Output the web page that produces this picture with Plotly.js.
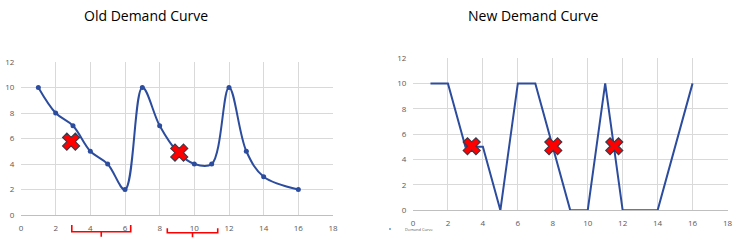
<!DOCTYPE html>
<html>
<head>
<meta charset="utf-8">
<script src="https://cdn.plot.ly/plotly-3.0.1.min.js"></script>
<style>html,body{margin:0;padding:0;background:#fff;}#chart{width:743px;height:240px;}</style>
</head>
<body>
<div id="chart"></div>
<script>
// Old demand curve (smoothed)
const oldX = [1, 2, 3, 4, 5, 6, 7, 8, 9, 10, 11, 12, 13, 14, 16];
const oldY = [10, 8, 7, 5, 4, 2, 10, 7, 5, 4, 4, 10, 5, 3, 2];
const oldMarkX = [2.89, 9.13];
const oldMarkY = [5.75, 4.89];

// New demand curve (straight segments)
const newX = [1, 2, 3, 4, 5, 6, 7, 8, 9, 10, 11, 12, 13, 14, 16];
const newY = [10, 10, 5, 5, 0, 10, 10, 5, 0, 0, 10, 0, 0, 0, 10];
const newMarkX = [3.36, 8.03, 11.52];
const newMarkY = [5.05, 5.05, 5.05];

// Red brackets under the old chart's x-axis: [start, end]
const bracketSpans = [[2.93, 6.33], [8.44, 11.35]];

const tickVals = [0, 2, 4, 6, 8, 10, 12, 14, 16, 18];
const yTickVals = [0, 2, 4, 6, 8, 10, 12];

const titles = ['Old Demand Curve', 'New Demand Curve'];
const legendLabel = 'Demand Curve';

const W = 743, H = 240;
const blue = '#2c4c9e';
const tickFont = {family: 'Open Sans, sans-serif', size: 8, color: '#595959'};

function xax(domain) {
  return {domain: domain, range: [0, 18], tickvals: tickVals, showgrid: true, gridcolor: '#d9d9d9', gridwidth: 1,
    zeroline: false, showline: true, linecolor: '#bfbfbf', linewidth: 1, ticks: 'outside', ticklen: 5,
    tickcolor: 'rgba(0,0,0,0)', tickfont: tickFont, fixedrange: true};
}
function yax(domain, anchor) {
  return {domain: domain, range: [0, 12], tickvals: yTickVals, showgrid: true, gridcolor: '#d9d9d9', gridwidth: 1,
    zeroline: false, showline: false, ticks: 'outside', ticklen: 4, tickcolor: 'rgba(0,0,0,0)',
    tickfont: tickFont, anchor: anchor, fixedrange: true};
}

const xMark = {symbol: 'x', size: 15, color: '#ff0000', line: {color: '#3a3a4a', width: 1.2}};

const traces = [
  {x: oldX, y: oldY, xaxis: 'x', yaxis: 'y', mode: 'lines+markers', line: {color: blue, width: 2, shape: 'spline', smoothing: 1},
   marker: {color: blue, size: 5}, showlegend: false, hoverinfo: 'skip'},
  {x: oldMarkX, y: oldMarkY, xaxis: 'x', yaxis: 'y', mode: 'markers', marker: xMark, showlegend: false, hoverinfo: 'skip'},
  {x: newX, y: newY, xaxis: 'x2', yaxis: 'y2', mode: 'lines', line: {color: blue, width: 2}, showlegend: false, hoverinfo: 'skip'},
  {x: newMarkX, y: newMarkY, xaxis: 'x2', yaxis: 'y2', mode: 'markers', marker: xMark, showlegend: false, hoverinfo: 'skip'}
];

const py = p => (H - p) / H; // pixel-from-top to paper
const shapes = [];
const bracketY = [[225, 231.7, 236.7], [228.3, 232.7, 237.3]];
bracketSpans.forEach((s, i) => {
  const c = (s[0] + s[1]) / 2;
  const [a, b, d] = bracketY[i].map(py);
  shapes.push({type: 'path', xref: 'x', yref: 'paper',
    path: `M ${s[0]},${a} L ${s[0]},${b} L ${s[1]},${b} L ${s[1]},${a} M ${c},${b} L ${c},${d}`,
    line: {color: '#ff0000', width: 1.6}});
});
shapes.push({type: 'circle', xref: 'paper', yref: 'paper', x0: 389 / W, x1: 391 / W, y0: py(230), y1: py(228),
  fillcolor: '#5b9bd5', line: {width: 0}});

const titleFont = {family: 'Liberation Sans Narrow, Open Sans, sans-serif', size: 14, color: '#000'};
const annotations = [
  {text: titles[0], xref: 'paper', yref: 'paper', x: 146 / W, y: py(15), xanchor: 'center', yanchor: 'middle', showarrow: false, font: titleFont},
  {text: titles[1], xref: 'paper', yref: 'paper', x: 533 / W, y: py(15), xanchor: 'center', yanchor: 'middle', showarrow: false, font: titleFont},
  {text: legendLabel, xref: 'paper', yref: 'paper', x: 403 / W, y: py(229), xanchor: 'left', yanchor: 'middle', showarrow: false,
   font: {family: 'Open Sans, sans-serif', size: 4, color: '#595959'}}
];

const layout = {
  width: W, height: H, margin: {l: 0, r: 0, t: 0, b: 0}, paper_bgcolor: '#fff', plot_bgcolor: '#fff',
  xaxis: xax([21 / W, 333 / W]), yaxis: yax([py(215), py(62)], 'x'),
  xaxis2: xax([413 / W, 727.5 / W]), yaxis2: yax([py(210.3), py(58)], 'x2'),
  shapes: shapes, annotations: annotations, showlegend: false
};
layout.xaxis2.anchor = 'y2';
layout.xaxis.anchor = 'y';

Plotly.newPlot('chart', traces, layout, {displayModeBar: false, staticPlot: true});
</script>
</body>
</html>
